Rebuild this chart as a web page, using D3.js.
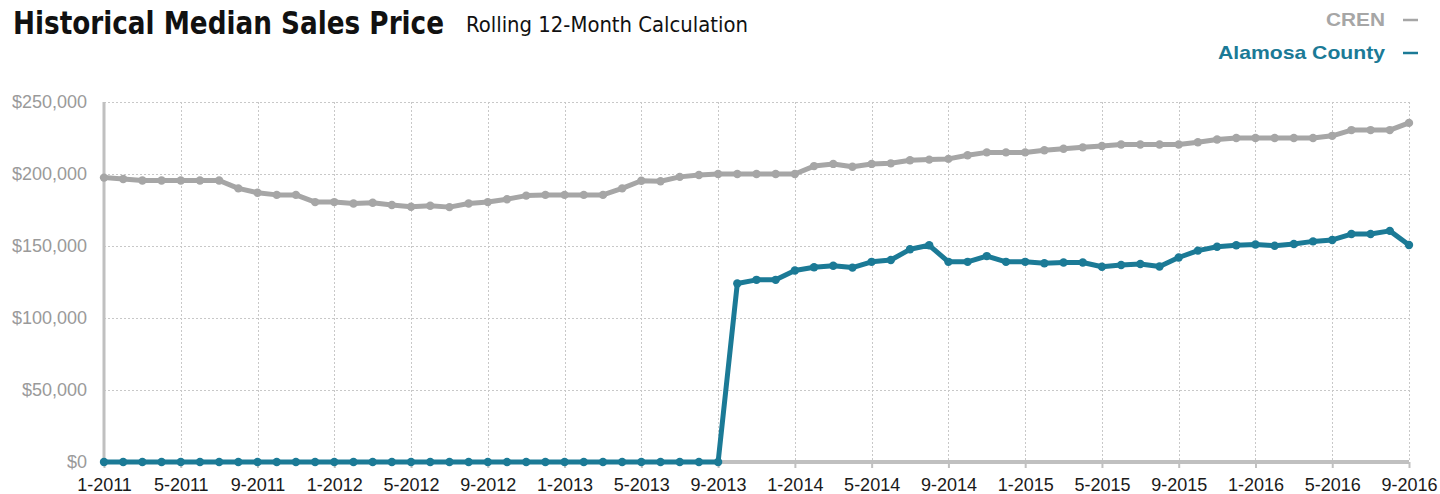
<!DOCTYPE html>
<html>
<head>
<meta charset="utf-8">
<script src="https://cdn.jsdelivr.net/npm/d3@7"></script>
<style>
  html, body { margin: 0; padding: 0; background: #fff; }
  svg { display: block; }
</style>
</head>
<body>
<svg id="chart" width="1440" height="494"></svg>
<script>
// ---- Data ----
const years = [2011, 2012, 2013, 2014, 2015, 2016];
const months = [];
years.forEach(yr => { for (let m = 1; m <= 12; m++) { if (yr === 2016 && m > 9) break; months.push(m + "-" + yr); } });

const tickLabels = ["1-2011","5-2011","9-2011","1-2012","5-2012","9-2012","1-2013","5-2013","9-2013",
                    "1-2014","5-2014","9-2014","1-2015","5-2015","9-2015","1-2016","5-2016","9-2016"];

const yTicks = [0, 50000, 100000, 150000, 200000, 250000];

// values in thousands of dollars
const crenValues = [
  197.5, 196.5, 195.5, 195.5, 195.5, 195.5, 195.5, 190, 187, 185.5, 185.5, 180.5,
  180.5, 179.5, 180, 178.5, 177.3, 178, 177, 179.5, 180.5, 182.5, 185, 185.5,
  185.5, 185.5, 185.5, 190, 195.3, 195, 198, 199.3, 200, 200, 200, 200,
  200, 205.5, 207, 205, 207, 207.4, 209.5, 210, 210.5, 213, 215, 215,
  215, 216.5, 217.5, 218.5, 219.5, 220.5, 220.5, 220.5, 220.5, 222, 224, 225,
  225, 225, 225, 225, 226.5, 230.5, 230.5, 230.5, 235.5
];
const alamosaValues = [
  0, 0, 0, 0, 0, 0, 0, 0, 0, 0, 0, 0,
  0, 0, 0, 0, 0, 0, 0, 0, 0, 0, 0, 0,
  0, 0, 0, 0, 0, 0, 0, 0, 0, 124, 126.5, 126.5,
  133, 135.2, 136.3, 135, 139, 140.3, 147.7, 150.5, 139, 139, 143, 139,
  139, 138, 138.5, 138.5, 135.6, 136.8, 137.5, 135.8, 142, 146.8, 149.5, 150.5,
  151, 150.2, 151.4, 153.2, 154.2, 158.3, 158.3, 160.5, 150.7
];

const seriesNames = ["CREN", "Alamosa County"];
const seriesColors = ["#a6a6a6", "#1b7a96"];

// ---- Layout ----
const svg = d3.select("#chart");
const plotL = 104, plotR = 1409, plotT = 102, plotB = 462;

const x = d3.scalePoint().domain(months).range([plotL, plotR]);
const y = d3.scaleLinear().domain([0, 250000]).range([plotB, plotT]);

const fontCond = "'Liberation Sans Narrow', 'Arial Narrow', 'DejaVu Sans Condensed', sans-serif";
const fontReg = "'Liberation Sans', Arial, Helvetica, sans-serif";

// Title
svg.append("text").attr("x", 13).attr("y", 34)
  .attr("font-family", fontCond).attr("font-weight", "bold").attr("font-size", 32)
  .attr("fill", "#111").attr("textLength", 431).attr("lengthAdjust", "spacingAndGlyphs")
  .text("Historical Median Sales Price");
svg.append("text").attr("x", 466).attr("y", 32)
  .attr("font-family", fontCond).attr("font-size", 22)
  .attr("fill", "#111").attr("textLength", 282).attr("lengthAdjust", "spacingAndGlyphs")
  .text("Rolling 12-Month Calculation");

// Legend
const legendY = [26, 59];
const legendW = [59, 167];
seriesNames.forEach((n, i) => {
  const g = svg.append("g");
  g.append("text").attr("x", 1385).attr("y", legendY[i]).attr("text-anchor", "end")
    .attr("font-family", fontReg).attr("font-weight", "bold").attr("font-size", 19)
    .attr("textLength", legendW[i]).attr("lengthAdjust", "spacingAndGlyphs")
    .attr("fill", seriesColors[i]).text(n);
  g.append("line").attr("x1", 1403).attr("x2", 1418)
    .attr("y1", legendY[i] - 6).attr("y2", legendY[i] - 6)
    .attr("stroke", seriesColors[i]).attr("stroke-width", 2.5);
});

// Grid
const grid = svg.append("g");
grid.selectAll("line.h").data(yTicks.filter(d => d > 0)).join("line")
  .attr("x1", plotL).attr("x2", plotR)
  .attr("y1", d => y(d) + 0.5).attr("y2", d => y(d) + 0.5)
  .attr("stroke", "#c8c8c8").attr("stroke-width", 1).attr("stroke-dasharray", "2,2");
grid.selectAll("line.v").data(tickLabels.slice(1)).join("line")
  .attr("x1", d => Math.round(x(d)) + 0.5).attr("x2", d => Math.round(x(d)) + 0.5)
  .attr("y1", plotT).attr("y2", plotB)
  .attr("stroke", "#c8c8c8").attr("stroke-width", 1).attr("stroke-dasharray", "2,2");

// Axes
const yAxis = d3.axisLeft(y).tickValues(yTicks).tickSize(0).tickPadding(17)
  .tickFormat(d => "$" + d3.format(",")(d));
const gy = svg.append("g").attr("transform", `translate(${plotL},0)`).call(yAxis);
gy.select(".domain").remove();
gy.selectAll("text").attr("font-family", fontReg).attr("font-size", 18).attr("fill", "#9a9a9a");

svg.append("line").attr("x1", plotL).attr("x2", plotL).attr("y1", plotT).attr("y2", plotB)
  .attr("stroke", "#c0c0c0").attr("stroke-width", 3);

const xAxis = d3.axisBottom(x).tickValues(tickLabels).tickSize(6).tickPadding(10);
const gx = svg.append("g").attr("transform", `translate(0,${plotB})`).call(xAxis);
gx.select(".domain").attr("stroke", "#c0c0c0").attr("stroke-width", 4).attr("d", `M${plotL},0H${plotR}`);
gx.selectAll(".tick line").attr("stroke", "#c0c0c0").attr("stroke-width", 2);
gx.selectAll("text").attr("font-family", fontReg).attr("font-size", 18).attr("fill", "#1a1a1a");

// Series
const allSeries = [crenValues, alamosaValues];
const line = d3.line().x((d, i) => x(months[i])).y(d => y(d * 1000));
allSeries.forEach((vals, si) => {
  svg.append("path").datum(vals).attr("d", line)
    .attr("fill", "none").attr("stroke", seriesColors[si]).attr("stroke-width", 5)
    .attr("stroke-linejoin", "round");
  svg.append("g").selectAll("circle").data(vals).join("circle")
    .attr("cx", (d, i) => x(months[i])).attr("cy", d => y(d * 1000))
    .attr("r", 4.2).attr("fill", seriesColors[si]);
});
</script>
</body>
</html>
